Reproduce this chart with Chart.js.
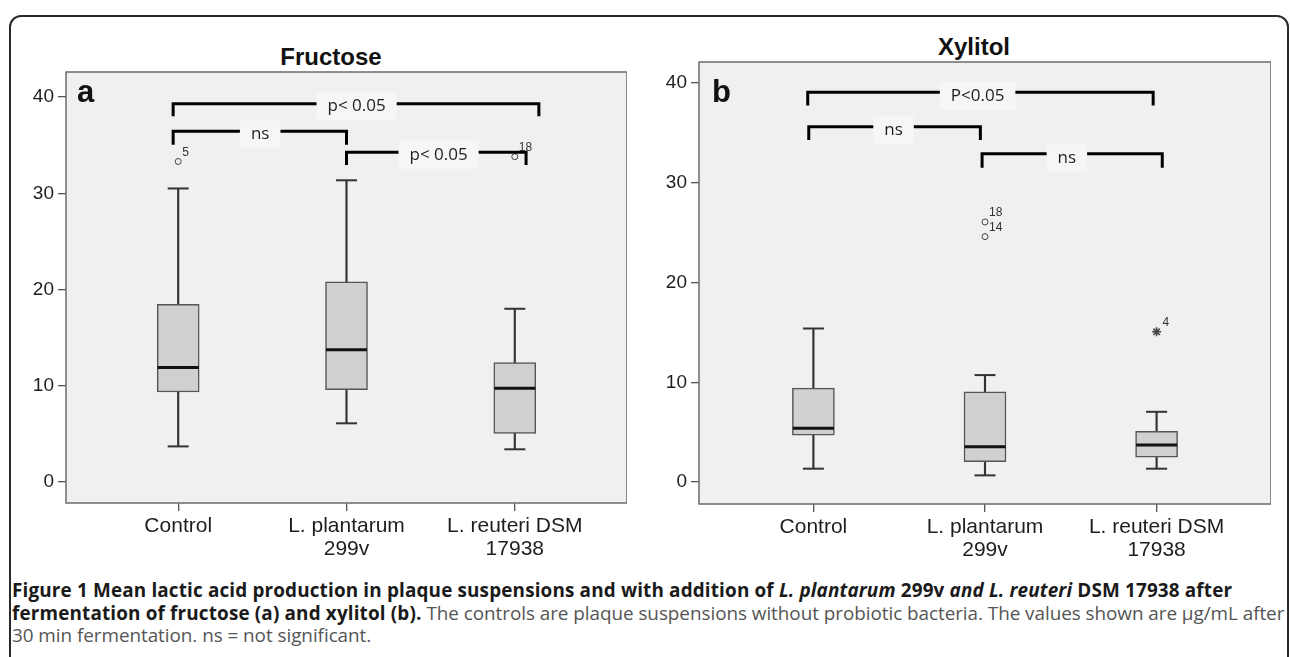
<!DOCTYPE html>
<html>
<head>
<meta charset="utf-8">
<script src="https://cdn.jsdelivr.net/npm/chart.js@4.4.0/dist/chart.umd.min.js"></script>
<style>
html,body{margin:0;padding:0;background:#fff;width:1290px;height:657px;overflow:hidden;}
#frame{position:absolute;left:9px;top:15px;width:1276px;height:700px;border:2px solid #2a2a2a;border-radius:12px;box-sizing:content-box;}
canvas{position:absolute;top:0;}
#ca{left:0;}
#cb{left:640px;}
.title{position:absolute;width:240px;text-align:center;font-family:"Liberation Sans",Arial,sans-serif;font-weight:bold;font-size:24px;line-height:28px;color:#111;}
#ta{left:211px;top:43px;}
#tb{left:854px;top:33px;}
#caption{position:absolute;left:12px;top:579px;font-family:'Open Sans',sans-serif;font-size:18.9px;line-height:22.5px;color:#555;white-space:nowrap;letter-spacing:-0.05px;}
#caption b{color:#1a1a1a;letter-spacing:0.15px;}
</style>
</head>
<body>
<div id="frame"></div>
<div class="title" id="ta">Fructose</div>
<div class="title" id="tb">Xylitol</div>
<canvas id="ca" width="627" height="573"></canvas>
<canvas id="cb" width="631" height="574"></canvas>
<div id="caption"><b>Figure 1 Mean lactic acid production in plaque suspensions and with addition of <i>L. plantarum</i> 299v <i>and L. reuteri</i> DSM 17938 after<br>fermentation of fructose (a) and xylitol (b).</b> The controls are plaque suspensions without probiotic bacteria. The values shown are µg/mL after<br>30 min fermentation. ns = not significant.</div>
<script>
// ---------- data ----------
const categories = [['Control'], ['L. plantarum', '299v'], ['L. reuteri DSM', '17938']];
const xPositions = [0, 1, 2];
const yTicks = [0, 10, 20, 30, 40];

// Fructose (panel a)
const fruMin    = [3.7, 6.1, 3.4];
const fruQ1     = [9.35, 9.6, 5.05];
const fruMedian = [11.9, 13.75, 9.75];
const fruQ3     = [18.45, 20.8, 12.4];
const fruMax    = [30.5, 31.35, 18.0];
const fruOutX     = [0, 2];
const fruOutY     = [33.3, 33.8];
const fruOutLabel = ['5', '18'];
const fruOutStyle = ['circle', 'circle'];
const fruBrX1    = [-0.03, -0.03, 1.0];
const fruBrX2    = [2.143, 1.0, 2.067];
const fruBrTop   = [39.3, 36.45, 34.25];
const fruBrBot   = [38.0, 35.05, 32.95];
const fruBrLabel = ['p< 0.05', 'ns', 'p< 0.05'];
const fruBrLabX  = [1.06, 0.487, 1.547];
const fruBrLabY  = [39.0, 36.15, 34.0];

// Xylitol (panel b)
const xylMin    = [1.34, 0.67, 1.34];
const xylQ1     = [4.71, 2.04, 2.5];
const xylMedian = [5.38, 3.54, 3.71];
const xylQ3     = [9.42, 9.05, 5.08];
const xylMax    = [15.39, 10.72, 7.04];
const xylOutX     = [1, 1, 2];
const xylOutY     = [26.07, 24.6, 15.06];
const xylOutLabel = ['18', '14', '4'];
const xylOutStyle = ['circle', 'circle', 'star'];
const xylBrX1    = [-0.033, -0.027, 0.983];
const xylBrX2    = [1.98, 0.973, 2.033];
const xylBrTop   = [39.07, 35.6, 32.9];
const xylBrBot   = [37.73, 34.27, 31.5];
const xylBrLabel = ['P<0.05', 'ns', 'ns'];
const xylBrLabX  = [0.957, 0.467, 1.477];
const xylBrLabY  = [38.7, 35.25, 32.45];

// ---------- helpers ----------
function panelPlugin(p) {
  return {
    id: 'panel' + p.letter,
    beforeDraw(chart) {
      const {ctx, chartArea: a} = chart;
      ctx.save();
      ctx.fillStyle = '#f0f0f0';
      ctx.fillRect(a.left, a.top, a.right - a.left, a.bottom - a.top);
      ctx.restore();
    },
    beforeDatasetsDraw(chart) {
      const {ctx, chartArea: a} = chart;
      ctx.save();
      ctx.strokeStyle = '#6b6b6b';
      ctx.lineWidth = 1.5;
      ctx.strokeRect(a.left, a.top, a.right - a.left, a.bottom - a.top);
      ctx.restore();
    },
    afterDatasetsDraw(chart) {
      const {ctx} = chart;
      const x = chart.scales.x, y = chart.scales.y;
      ctx.save();
      ctx.font = '17px "Open Sans"';
      ctx.textAlign = 'center';
      ctx.textBaseline = 'middle';
      p.brLabel.forEach((t, i) => {
        const px = x.getPixelForValue(p.brLabX[i]);
        const py = y.getPixelForValue(p.brLabY[i]);
        const w = ctx.measureText(t).width + 22;
        ctx.fillStyle = '#f6f6f6';
        ctx.fillRect(px - w / 2, py - 14, w, 28);
        ctx.fillStyle = '#1e1e1e';
        ctx.fillText(t, px, py);
      });
      ctx.font = '12px "Liberation Sans", Arial, sans-serif';
      ctx.textAlign = 'left';
      ctx.fillStyle = '#333';
      p.outX.forEach((v, i) => {
        const dx = p.outStyle[i] === 'star' ? 6 : 4;
        ctx.fillText(p.outLabel[i], x.getPixelForValue(v) + dx, y.getPixelForValue(p.outY[i]) - 9);
      });
      ctx.font = 'bold 31px "Liberation Sans", Arial, sans-serif';
      ctx.textBaseline = 'alphabetic';
      ctx.fillStyle = '#111';
      ctx.fillText(p.letter, x.getPixelForValue(p.letterX), y.getPixelForValue(p.letterY));
      ctx.restore();
    }
  };
}

function makeChart(id, p) {
  const datasets = [];
  // whiskers
  datasets.push({
    type: 'bar', order: 10, grouped: false,
    data: xPositions.map((v, i) => ({x: v, y: [p.min[i], p.max[i]]})),
    backgroundColor: '#333', borderWidth: 0, barThickness: 1.5
  });
  // boxes
  datasets.push({
    type: 'bar', order: 9, grouped: false,
    data: xPositions.map((v, i) => ({x: v, y: [p.q1[i], p.q3[i]]})),
    backgroundColor: '#d0d0d0', borderColor: '#555', borderWidth: 1.5,
    borderSkipped: false, barThickness: 42
  });
  // whisker caps
  datasets.push({
    type: 'line', order: 8, showLine: false,
    data: xPositions.flatMap((v, i) => [{x: v, y: p.min[i]}, {x: v, y: p.max[i]}]),
    pointStyle: 'line', pointRadius: 10.5, pointBorderWidth: 2, pointBorderColor: '#333'
  });
  // medians
  datasets.push({
    type: 'line', order: 7, showLine: false,
    data: xPositions.map((v, i) => ({x: v, y: p.median[i]})),
    pointStyle: 'line', pointRadius: 20.5, pointBorderWidth: 3, pointBorderColor: '#111'
  });
  // outliers
  datasets.push({
    type: 'line', order: 6, showLine: false,
    data: p.outX.map((v, i) => ({x: v, y: p.outY[i]})),
    pointStyle: p.outStyle.map(s => s),
    pointRadius: p.outStyle.map(s => s === 'star' ? 4.5 : 3),
    pointBorderWidth: p.outStyle.map(s => s === 'star' ? 1.6 : 1),
    pointBorderColor: '#444', pointBackgroundColor: 'rgba(0,0,0,0)'
  });
  // significance brackets
  p.brX1.forEach((x1, i) => {
    datasets.push({
      type: 'line', order: 1,
      data: [{x: x1, y: p.brBot[i]}, {x: x1, y: p.brTop[i]}, {x: p.brX2[i], y: p.brTop[i]}, {x: p.brX2[i], y: p.brBot[i]}],
      borderColor: '#000', borderWidth: 3, pointRadius: 0, tension: 0,
      borderJoinStyle: 'miter', borderCapStyle: 'butt', fill: false
    });
  });

  return new Chart(document.getElementById(id), {
    type: 'bar',
    data: {datasets},
    options: {
      responsive: false, animation: false, devicePixelRatio: 1, events: [],
      layout: {autoPadding: false, padding: {left: 0, right: 0, top: p.padTop, bottom: 0}},
      plugins: {legend: {display: false}, tooltip: {enabled: false}, title: {display: false}},
      scales: {
        x: {
          type: 'linear', min: -2 / 3, max: 8 / 3, offset: false,
          afterBuildTicks: s => { s.ticks = xPositions.map(v => ({value: v})); },
          afterFit: s => { s.height = 70; s.paddingLeft = 0; s.paddingRight = 0; },
          grid: {offset: false, drawOnChartArea: false, drawTicks: true, tickLength: 8, color: '#555', lineWidth: 1.3},
          border: {display: false},
          ticks: {
            padding: 4, color: '#1e1e1e', autoSkip: false, maxRotation: 0,
            font: {family: '"Liberation Sans", Arial, sans-serif', size: 21, lineHeight: 1.1},
            callback: (value) => categories[xPositions.indexOf(value)]
          }
        },
        y: {
          type: 'linear', min: p.yMin, max: p.yMax,
          afterBuildTicks: s => { s.ticks = yTicks.map(v => ({value: v})); },
          afterFit: s => { s.width = p.yAxisWidth; s.paddingTop = 0; s.paddingBottom = 0; },
          grid: {drawOnChartArea: false, drawTicks: true, tickLength: 8, color: '#555', lineWidth: 1.3},
          border: {display: false},
          ticks: {
            padding: 4, color: '#1e1e1e',
            font: {family: '"Liberation Sans", Arial, sans-serif', size: 19}
          }
        }
      }
    },
    plugins: [panelPlugin(p)]
  });
}

makeChart('ca', {
  letter: 'a', letterX: -0.601, letterY: 39.5,
  yMin: -2.18, yMax: 42.6, padTop: 72, yAxisWidth: 66,
  min: fruMin, q1: fruQ1, median: fruMedian, q3: fruQ3, max: fruMax,
  outX: fruOutX, outY: fruOutY, outLabel: fruOutLabel, outStyle: fruOutStyle,
  brX1: fruBrX1, brX2: fruBrX2, brTop: fruBrTop, brBot: fruBrBot,
  brLabel: fruBrLabel, brLabX: fruBrLabX, brLabY: fruBrLabY
});
makeChart('cb', {
  letter: 'b', letterX: -0.591, letterY: 38.1,
  yMin: -2.2, yMax: 42.1, padTop: 62, yAxisWidth: 59,
  min: xylMin, q1: xylQ1, median: xylMedian, q3: xylQ3, max: xylMax,
  outX: xylOutX, outY: xylOutY, outLabel: xylOutLabel, outStyle: xylOutStyle,
  brX1: xylBrX1, brX2: xylBrX2, brTop: xylBrTop, brBot: xylBrBot,
  brLabel: xylBrLabel, brLabX: xylBrLabX, brLabY: xylBrLabY
});
</script>
</body>
</html>
